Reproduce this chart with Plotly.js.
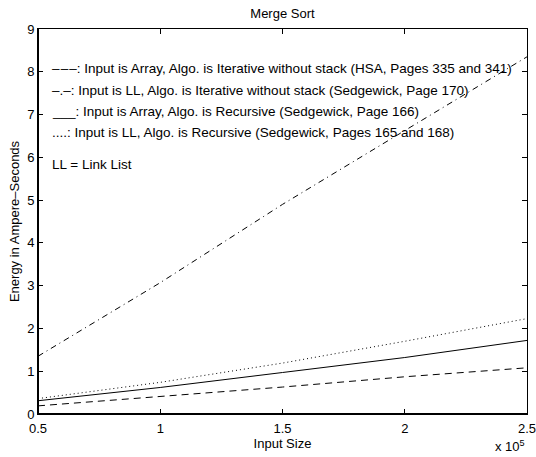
<!DOCTYPE html>
<html>
<head>
<meta charset="utf-8">
<script src="https://cdn.plot.ly/plotly-3.0.1.min.js"></script>
<style>html,body{margin:0;padding:0;background:#fff}#chart{width:536px;height:457px}</style>
</head>
<body>
<div id="chart"></div>
<script>
// Input size (elements)
const inputSizes = [50000, 100000, 150000, 200000, 250000];
const xTickVals = [50000, 100000, 150000, 200000, 250000];
const xTickText = ['0.5', '1', '1.5', '2', '2.5'];
const yTickVals = [0, 1, 2, 3, 4, 5, 6, 7, 8, 9];

// Energy in Ampere-Seconds
const arrayIterative = [0.19, 0.41, 0.63, 0.87, 1.08];   // dashed
const llIterative = [1.35, 3.07, 4.90, 6.62, 8.35];      // dash-dot
const arrayRecursive = [0.31, 0.62, 0.97, 1.32, 1.72];   // solid
const llRecursive = [0.36, 0.74, 1.19, 1.70, 2.23];      // dotted

const notes = [
  '–\u200A–\u200A–: Input is Array, Algo. is Iterative without stack (HSA, Pages 335 and 341)',
  '–.–: Input is LL, Algo. is Iterative without stack (Sedgewick, Page 170)',
  '___: Input is Array, Algo. is Recursive (Sedgewick, Page 166)',
  '....: Input is LL, Algo. is Recursive (Sedgewick, Pages 165 and 168)',
  'LL = Link List'
];
const noteY = [8.07, 7.56, 7.07, 6.58, 5.83];

const FONT = 'Arial, "Liberation Sans", Helvetica, sans-serif';

const traces = [
  {x: inputSizes, y: arrayIterative, mode: 'lines', line: {color: '#000', width: 1, dash: '7px,5px'}},
  {x: inputSizes, y: llIterative, mode: 'lines', line: {color: '#000', width: 1, dash: '6px,4px,1px,4px'}},
  {x: inputSizes, y: arrayRecursive, mode: 'lines', line: {color: '#000', width: 1}},
  {x: inputSizes, y: llRecursive, mode: 'lines', line: {color: '#000', width: 1, dash: '1px,3px'}}
];

const annotations = notes.map((t, i) => ({
  x: 55000, y: noteY[i], xref: 'x', yref: 'y', text: t, showarrow: false,
  xanchor: 'left', yanchor: 'middle', font: {family: FONT, size: 13.5, color: '#000'}
}));
annotations.push({
  x: 1, y: -0.11, xref: 'paper', yref: 'paper', xanchor: 'right', yanchor: 'bottom',
  text: 'x 10<sup>5</sup>', showarrow: false, font: {family: FONT, size: 13, color: '#000'}
});

const layout = {
  width: 536, height: 457,
  margin: {l: 38, r: 9, t: 29, b: 43, pad: 0},
  paper_bgcolor: '#fff', plot_bgcolor: '#fff',
  showlegend: false,
  font: {family: FONT, size: 13, color: '#000'},
  title: {text: 'Merge Sort', x: 0.527, xanchor: 'center', y: 0.97, yanchor: 'middle', font: {family: FONT, size: 13, color: '#000'}},
  xaxis: {
    range: [50000, 250000], tickvals: xTickVals, ticktext: xTickText,
    ticks: 'inside', ticklen: 5, tickcolor: '#000', showline: true, linecolor: '#000', linewidth: 1,
    mirror: 'ticks', showgrid: false, zeroline: false, ticklabeloverflow: 'allow', ticklabelstandoff: 2,
    title: {text: 'Input Size', standoff: 2, font: {family: FONT, size: 13, color: '#000'}}
  },
  yaxis: {
    range: [0, 9], tickvals: yTickVals,
    ticks: 'inside', ticklen: 5, tickcolor: '#000', showline: true, linecolor: '#000', linewidth: 1,
    mirror: 'ticks', showgrid: false, zeroline: false, ticklabeloverflow: 'allow',
    title: {text: 'Energy in Ampere–Seconds', standoff: 4, font: {family: FONT, size: 13, color: '#000'}}
  },
  shapes: [
    {type: 'line', xref: 'paper', yref: 'paper', x0: 0, x1: 0, y0: 0, y1: 1, line: {color: '#000', width: 2}},
    {type: 'line', xref: 'paper', yref: 'paper', x0: 0, x1: 1, y0: 0, y1: 0, line: {color: '#000', width: 2}}
  ],
  annotations: annotations
};

Plotly.newPlot('chart', traces, layout, {displayModeBar: false, staticPlot: true});
</script>
</body>
</html>
